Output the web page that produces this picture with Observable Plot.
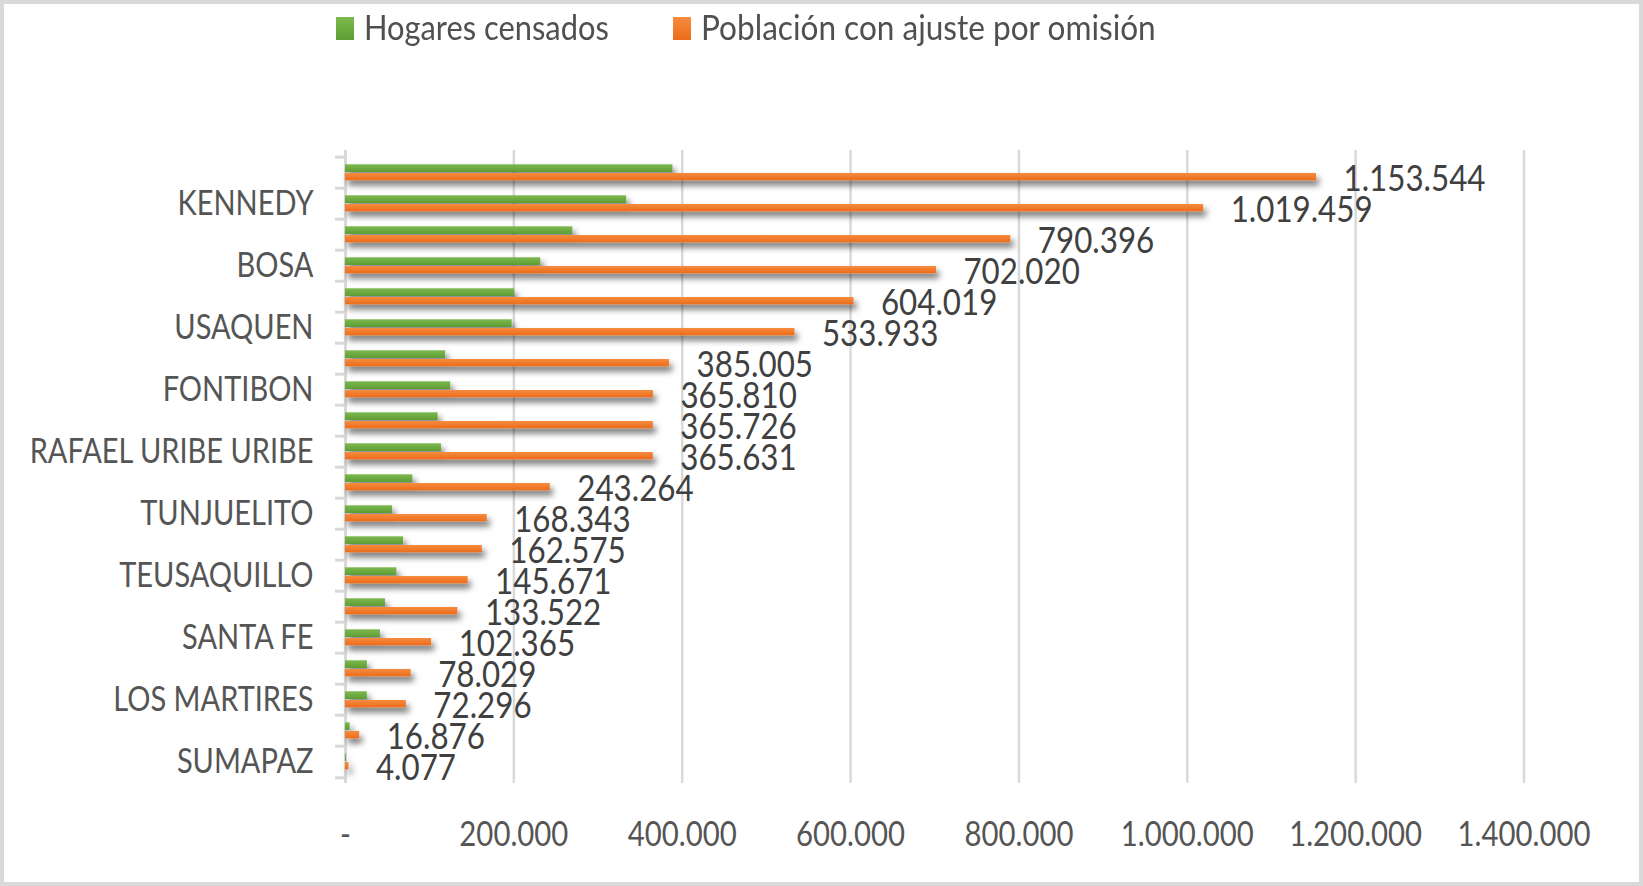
<!DOCTYPE html>
<html>
<head>
<meta charset="utf-8">
<script src="https://cdn.jsdelivr.net/npm/d3@7"></script>
<script src="https://cdn.jsdelivr.net/npm/@observablehq/plot@0.6"></script>
<style>
  html, body { margin: 0; padding: 0; background: #fff; }
  #wrap { position: relative; width: 1643px; height: 886px; overflow: hidden; background: #fff; font-family: Lato, "Open Sans", sans-serif; }
  #frame { position: absolute; left: 0; top: 0; width: 1643px; height: 886px; box-sizing: border-box;
           border: 4px solid #d9d9d9; pointer-events: none; }
  #legend { position: relative; height: 60px; }
  .sw { position: absolute; top: 17px; width: 18px; height: 23px; }
  .lt { position: absolute; top: 10px; font-size: 34px; line-height: 34px; color: #505050; white-space: nowrap; transform-origin: 0 50%; }
</style>
</head>
<body>
<div id="wrap">
  <div id="legend">
    <div class="sw" style="left:336px;background:linear-gradient(#7cb84e,#5e9e34)"></div>
    <div class="lt" id="l1" style="left:364px">Hogares censados</div>
    <div class="sw" style="left:673px;background:linear-gradient(#f68c40,#ec6b1a)"></div>
    <div class="lt" id="l2" style="left:701px">Población con ajuste por omisión</div>
  </div>
  <div id="chart"></div>
  <div id="frame"></div>
</div>
<script>
const localidades = ["SUBA","KENNEDY","ENGATIVA","BOSA","CIUDAD BOLIVAR","USAQUEN","SAN CRISTOBAL","FONTIBON","USME","RAFAEL URIBE URIBE","PUENTE ARANDA","TUNJUELITO","BARRIOS UNIDOS","TEUSAQUILLO","CHAPINERO","SANTA FE","ANTONIO NARIÑO","LOS MARTIRES","LA CANDELARIA","SUMAPAZ"];
const etiquetasY = ["KENNEDY","BOSA","USAQUEN","FONTIBON","RAFAEL URIBE URIBE","TUNJUELITO","TEUSAQUILLO","SANTA FE","LOS MARTIRES","SUMAPAZ"];
const hogares = [389000,334000,270000,232000,201000,198000,119000,125000,110000,114000,80000,56000,69000,61000,47500,41500,26000,26000,5500,1200];
const poblacion = [1153544,1019459,790396,702020,604019,533933,385005,365810,365726,365631,243264,168343,162575,145671,133522,102365,78029,72296,16876,4077];
const ticksX = [0,200000,400000,600000,800000,1000000,1200000,1400000];

const datos = localidades.map((l, i) => ({localidad: l, hogares: hogares[i], poblacion: poblacion[i]}));
const miles = v => d3.format(",")(v).replace(/,/g, ".");
const fmtEje = v => v === 0 ? "-" : miles(v);

const FONT = 'Lato, "Open Sans", sans-serif';
const H = 826, MT = 90, MB = 103;
const bw = (H - MT - MB) / localidades.length;

const svg = Plot.plot({
  width: 1643, height: H,
  marginTop: MT, marginBottom: MB, marginLeft: 345, marginRight: 119.5,
  x: {domain: [0, 1400000], axis: null},
  y: {domain: localidades, axis: null, paddingInner: 0, paddingOuter: 0},
  style: {fontFamily: FONT, color: "#505050", background: "transparent", overflow: "visible"},
  marks: [
    Plot.gridX(ticksX.slice(1), {stroke: "#d9d9d9", strokeOpacity: 1, strokeWidth: 2.5}),
    Plot.ruleX([0], {stroke: "#d9d9d9", strokeWidth: 3}),
    Plot.ruleY(localidades, {y: d => d, x1: 0, x2: 0, insetLeft: -10, dy: -bw / 2, stroke: "#d9d9d9", strokeWidth: 3}),
    Plot.ruleY(localidades.slice(-1), {y: d => d, x1: 0, x2: 0, insetLeft: -10, dy: bw / 2, stroke: "#d9d9d9", strokeWidth: 3}),
    Plot.barX(datos, {x: "hogares", y: "localidad", fill: "#6aab3d", insetTop: 7.3, insetBottom: 16}),
    Plot.barX(datos, {x: "poblacion", y: "localidad", fill: "#f07a26", insetTop: 16, insetBottom: 7.7}),
    Plot.text(datos, {x: "poblacion", y: "localidad", text: d => miles(d.poblacion), textAnchor: "start", dx: 27, dy: 6, fontSize: 36, fill: "#404040"}),
    Plot.axisY({ticks: etiquetasY, tickSize: 0, tickPadding: 32, fontSize: 35, fill: "#555555", label: null}),
    Plot.axisX({ticks: ticksX, tickSize: 0, tickPadding: 38, tickFormat: fmtEje, fontSize: 35, fill: "#555555", label: null})
  ]
});

// gradients and shadows like the original
const ns = "http://www.w3.org/2000/svg";
const defs = document.createElementNS(ns, "defs");
defs.innerHTML = `
  <linearGradient id="gG" x1="0" y1="0" x2="0" y2="1"><stop offset="0" stop-color="#7cb84e"/><stop offset="1" stop-color="#5e9e34"/></linearGradient>
  <linearGradient id="gO" x1="0" y1="0" x2="0" y2="1"><stop offset="0" stop-color="#f68c40"/><stop offset="1" stop-color="#ec6b1a"/></linearGradient>
  <filter id="sh" x="-10%" y="-80%" width="130%" height="320%"><feDropShadow dx="3" dy="5" stdDeviation="3" flood-color="#000" flood-opacity="0.55"/></filter>`;
svg.insertBefore(defs, svg.firstChild);
const barGroups = svg.querySelectorAll('g[aria-label="bar"]');
if (barGroups[0]) { barGroups[0].setAttribute("fill", "url(#gG)"); barGroups[0].setAttribute("filter", "url(#sh)"); }
if (barGroups[1]) { barGroups[1].setAttribute("fill", "url(#gO)"); barGroups[1].setAttribute("filter", "url(#sh)"); }

document.getElementById("chart").appendChild(svg);

// condense text horizontally to the narrow face of the original
function condense(g, refText, target) {
  if (!g) return;
  const texts = Array.from(g.querySelectorAll("text"));
  if (!texts.length) return;
  const ref = texts.find(t => t.textContent === refText) || texts[0];
  const s = target / ref.getComputedTextLength();
  texts.forEach(t => {
    const xa = t.getAttribute("x");
    const ya = t.getAttribute("y");
    let extra = "";
    if (xa !== null && !/em/.test(xa)) { extra += `translate(${xa},0) `; t.removeAttribute("x"); }
    if (ya !== null && !/em/.test(ya)) { extra += `translate(0,${ya}) `; t.removeAttribute("y"); }
    const tr = t.getAttribute("transform") || "";
    t.setAttribute("transform", `${tr} ${extra}scale(${s},1)`);
  });
}
try {
  condense(svg.querySelector('g[aria-label="y-axis tick label"]'), "RAFAEL URIBE URIBE", 284);
  condense(svg.querySelector('g[aria-label="x-axis tick label"]'), "1.400.000", 133);
  condense(svg.querySelector('g[aria-label="text"]'), "1.153.544", 142);
} catch (e) { console.error(e); }

[["l1", 245], ["l2", 455]].forEach(([id, w]) => {
  const el = document.getElementById(id);
  el.style.transform = `scaleX(${w / el.offsetWidth})`;
});
</script>
</body>
</html>
